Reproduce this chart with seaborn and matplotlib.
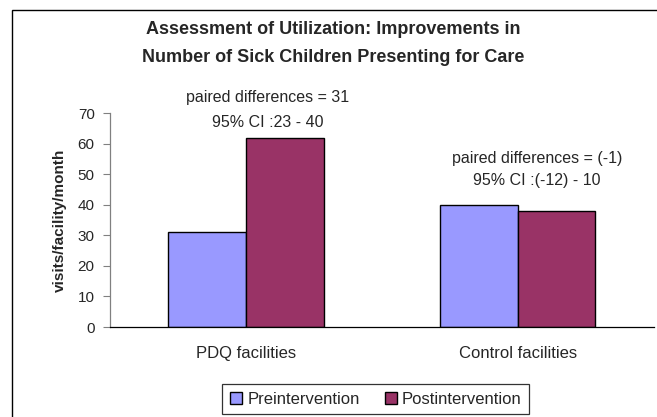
import pandas as pd
import matplotlib.pyplot as plt
import matplotlib.patches as mpatches
import seaborn as sns

# data
facilities = ["PDQ facilities", "Control facilities"]
periods = ["Preintervention", "Postintervention"]
pre_values = [31, 40]
post_values = [62, 38]
yticks = [0, 10, 20, 30, 40, 50, 60, 70]

df = pd.DataFrame({
    "facility": facilities * 2,
    "period": [periods[0]] * 2 + [periods[1]] * 2,
    "visits": pre_values + post_values,
})

sns.set_theme(style="white")
plt.rcParams["font.family"] = ["Liberation Sans", "DejaVu Sans"]

palette = {"Preintervention": "#9999FF", "Postintervention": "#993366"}

fig = plt.figure(figsize=(6.57, 4.17), dpi=100)
ax = fig.add_axes([0.1674, 0.2158, 0.828, 0.513])

sns.barplot(data=df, x="facility", y="visits", hue="period", order=facilities,
            hue_order=periods, palette=palette, width=0.57, edgecolor="black",
            linewidth=1.0, saturation=1, ax=ax)

ax.set_ylim(0, 70)
ax.set_xlim(-0.5, 1.5)
ax.set_yticks(yticks)
ax.set_yticklabels([str(v) for v in yticks], fontsize=11)
ax.set_xticks([0, 1])
ax.set_xticklabels(facilities, fontsize=12)
ax.set_xticks([-0.5, 0.5, 1.5], minor=True)
ax.tick_params(axis="x", which="major", length=0, pad=14)
ax.tick_params(axis="x", which="minor", length=5, direction="out", color="black", width=0.8)
ax.tick_params(axis="y", length=5, direction="out", color="#808080", width=0.8, left=True, pad=6)
ax.set_xlabel("")
ax.set_ylabel("visits/facility/month", fontsize=11, fontweight="bold", labelpad=8)

for s in ["top", "right"]:
    ax.spines[s].set_visible(False)
ax.spines["left"].set_color("#808080")
ax.spines["left"].set_linewidth(0.9)
ax.spines["bottom"].set_color("black")
ax.spines["bottom"].set_linewidth(0.9)

# annotations
ax.text(0.08, 75.2, "paired differences = 31", ha="center", va="center",
        fontsize=11.5, clip_on=False)
ax.text(0.08, 67.0, "95% CI :23 - 40", ha="center", va="center",
        fontsize=11.5, clip_on=False)
ax.text(1.07, 55.3, "paired differences = (-1)", ha="center", va="center",
        fontsize=11.5)
ax.text(1.07, 48.0, "95% CI :(-12) - 10", ha="center", va="center",
        fontsize=11.5)

# title
fig.text(0.507, 0.8957,
         "Assessment of Utilization: Improvements in\nNumber of Sick Children Presenting for Care",
         ha="center", va="center", fontsize=13, fontweight="bold", linespacing=1.85)

# legend
handles = [mpatches.Patch(facecolor=palette[p], edgecolor="black", linewidth=1.0, label=p)
           for p in periods]
ax.get_legend().remove()
leg = fig.legend(handles=handles, loc="center", bbox_to_anchor=(0.572, 0.043), ncol=2,
                 fontsize=12, frameon=True, fancybox=False, edgecolor="black",
                 handlelength=0.75, handleheight=0.75, handletextpad=0.3,
                 columnspacing=1.5, borderpad=0.45)
leg.get_frame().set_linewidth(0.9)

# outer chart-area border (cropped on right and bottom)
fig.patches.append(mpatches.Rectangle((12 / 657, -0.1), 1.2, 1.1 - 10 / 417,
                                      transform=fig.transFigure, fill=False,
                                      edgecolor="black", linewidth=1.0))

fig.savefig("out.png", dpi=100)
